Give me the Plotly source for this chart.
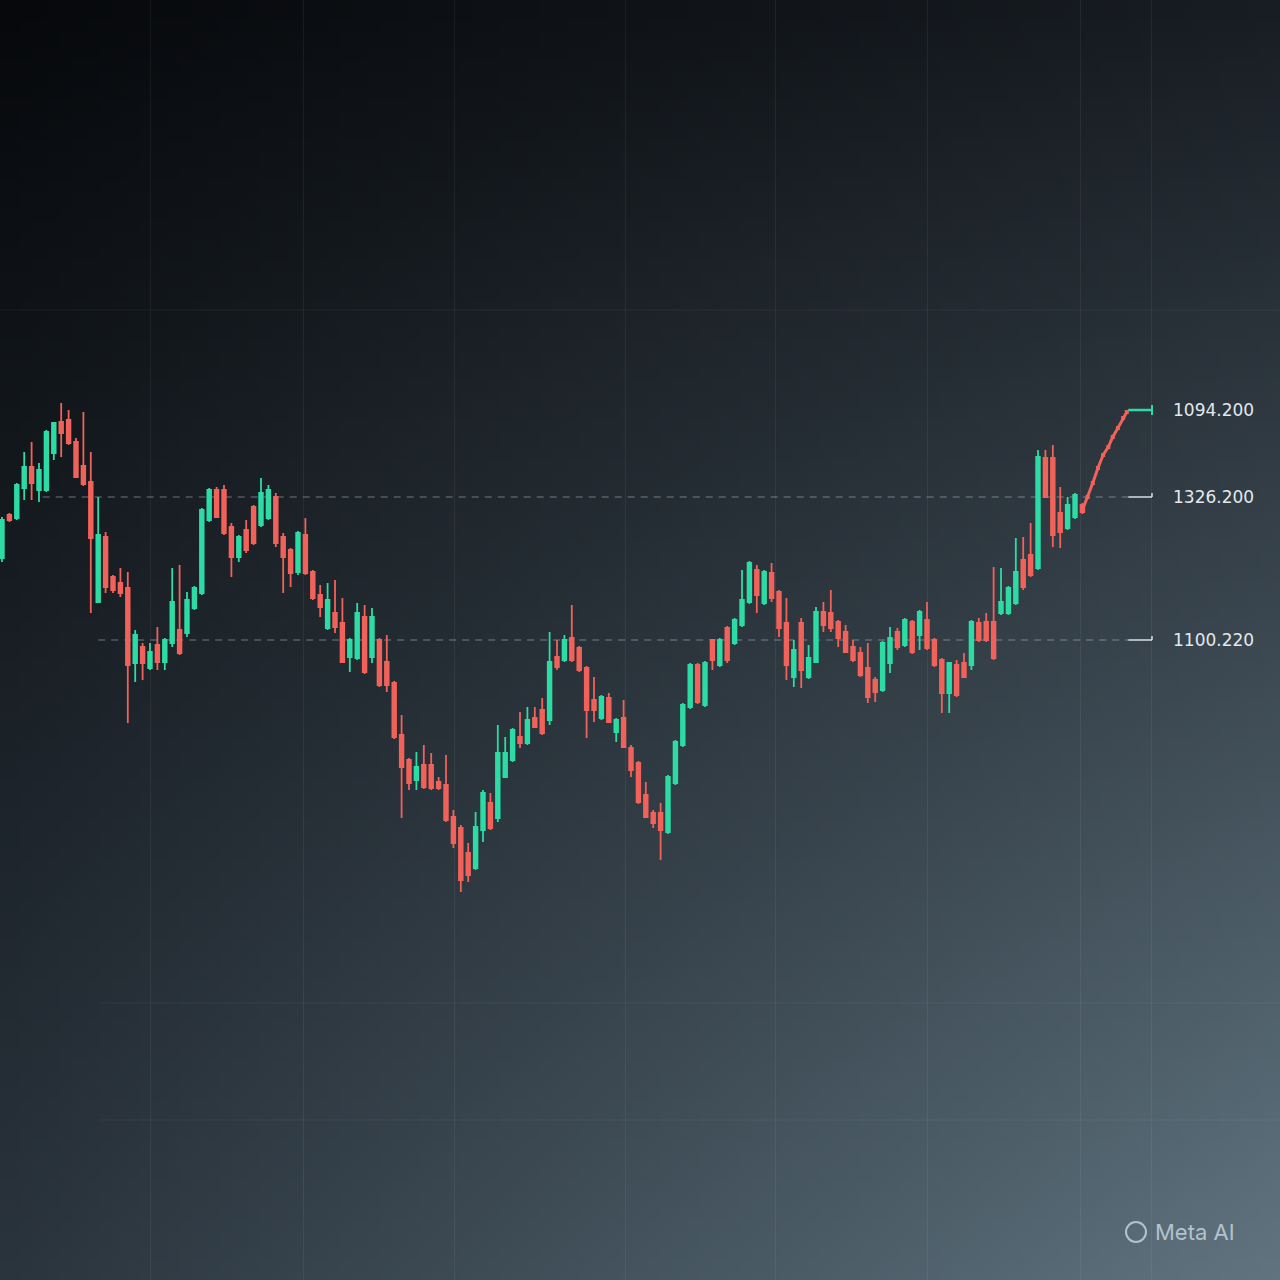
import base64
import struct
import zlib
import plotly.graph_objects as go

# ---------------- data (price units) ----------------
open_ = [722, 765, 762, 792, 813, 790, 790, 827, 858, 860,
         838, 814, 798, 678, 743, 703, 697, 692, 617, 633,
         612, 635, 618, 637, 650, 647, 672, 687, 760, 790,
         790, 753, 723, 750, 773, 755, 762, 783, 743, 730,
         708, 745, 708, 685, 652, 667, 657, 623, 622, 663,
         623, 640, 618, 597, 545, 520, 500, 515, 515, 498,
         495, 463, 452, 427, 412, 450, 477, 462, 503, 520,
         543, 537, 562, 570, 560, 623, 620, 642, 632, 612,
         580, 562, 582, 548, 562, 532, 517, 485, 467, 467,
         448, 497, 535, 573, 615, 575, 640, 615, 652, 637,
         655, 678, 710, 677, 707, 688, 657, 603, 657, 603,
         618, 668, 667, 658, 648, 633, 627, 612, 600, 590,
         617, 648, 635, 658, 645, 660, 640, 620, 587, 615,
         617, 615, 657, 658, 658, 667, 667, 677, 720, 725,
         712, 822, 822, 767, 752, 763, 775]
high = [763, 767, 797, 828, 838, 817, 850, 858, 877, 870,
        842, 868, 828, 783, 748, 705, 712, 708, 650, 637,
        637, 653, 642, 712, 715, 688, 694, 772, 792, 793,
        795, 757, 745, 760, 775, 802, 795, 787, 747, 732,
        749, 762, 710, 695, 697, 700, 682, 642, 677, 675,
        672, 642, 645, 599, 565, 522, 528, 535, 527, 503,
        525, 470, 455, 437, 468, 490, 487, 555, 543, 552,
        568, 573, 573, 582, 648, 640, 645, 675, 634, 614,
        603, 585, 587, 562, 580, 535, 519, 498, 470, 477,
        505, 540, 577, 617, 617, 619, 640, 642, 654, 662,
        710, 719, 715, 710, 717, 690, 682, 640, 662, 635,
        673, 678, 690, 660, 655, 640, 633, 637, 603, 639,
        653, 652, 662, 660, 670, 678, 642, 622, 618, 620,
        627, 660, 662, 667, 713, 712, 694, 742, 743, 757,
        830, 830, 835, 793, 783, 787, 777]
low = [718, 758, 760, 780, 780, 778, 788, 820, 823, 835,
       802, 794, 667, 677, 687, 687, 683, 557, 598, 600,
       610, 610, 610, 633, 625, 643, 670, 685, 758, 762,
       745, 703, 718, 727, 735, 753, 760, 733, 687, 693,
       705, 705, 680, 663, 650, 647, 617, 608, 620, 606,
       617, 593, 588, 541, 462, 490, 490, 491, 490, 490,
       458, 432, 388, 398, 410, 438, 450, 458, 502, 518,
       532, 535, 552, 545, 555, 610, 618, 618, 608, 542,
       558, 560, 557, 538, 532, 503, 476, 462, 452, 420,
       446, 495, 533, 571, 576, 573, 610, 613, 617, 635,
       653, 676, 667, 675, 678, 643, 600, 593, 592, 601,
       617, 648, 648, 633, 627, 618, 603, 577, 578, 588,
       607, 630, 633, 626, 630, 630, 613, 567, 567, 583,
       602, 610, 638, 638, 620, 665, 665, 675, 690, 703,
       710, 782, 733, 732, 750, 761, 766]
close = [760, 760, 795, 813, 797, 810, 848, 857, 847, 837,
         803, 796, 742, 745, 693, 690, 687, 615, 645, 617,
         628, 618, 640, 678, 627, 680, 692, 770, 790, 763,
         747, 723, 743, 730, 737, 787, 790, 737, 723, 707,
         747, 707, 682, 673, 680, 653, 618, 640, 667, 608,
         663, 595, 595, 543, 513, 497, 513, 493, 492, 492,
         460, 437, 400, 405, 453, 487, 452, 527, 527, 550,
         537, 560, 553, 547, 618, 613, 640, 620, 610, 570,
         570, 583, 558, 560, 533, 510, 478, 463, 457, 450,
         503, 538, 575, 615, 578, 617, 620, 640, 620, 660,
         680, 717, 685, 708, 682, 652, 615, 630, 610, 622,
         668, 655, 652, 642, 628, 620, 605, 583, 588, 637,
         642, 633, 660, 628, 668, 632, 615, 587, 617, 585,
         603, 658, 640, 640, 622, 678, 692, 708, 693, 705,
         823, 783, 745, 748, 775, 785, 768]
x_idx = list(range(len(open_)))

# final rising move and last-price line
trend_x = [146.0, 146.7, 147.4, 148.1, 148.8, 149.5, 150.1, 150.8, 151.5, 152.0]
trend_y = [770, 783, 797, 812, 825, 833, 843, 852, 862, 868]
last_x = [152.2, 155.4]
last_y = [870, 870]

# price levels on the right
level_prices = [870, 783, 640]
level_labels = ["1094.200", "1326.200", "1100.220"]
level_dash_start = [None, 5.5, 13.0]

GREEN = "#2ddba5"
RED = "#f0625a"


# ---------------- gradient background (generated PNG) ----------------
def gradient_png(w=96, h=96):
    tl, tr = (6, 8, 11), (24, 29, 35)
    bl, br = (42, 52, 61), (96, 116, 128)
    rows = []
    for j in range(h):
        v = j / (h - 1)
        row = bytearray([0])
        for i in range(w):
            u = i / (w - 1)
            for c in range(3):
                val = (tl[c] * (1 - u) * (1 - v) + tr[c] * u * (1 - v)
                       + bl[c] * (1 - u) * v + br[c] * u * v)
                row.append(int(round(val)))
        rows.append(bytes(row))
    raw = b"".join(rows)

    def chunk(tag, data):
        return (struct.pack(">I", len(data)) + tag + data
                + struct.pack(">I", zlib.crc32(tag + data) & 0xFFFFFFFF))

    png = (b"\x89PNG\r\n\x1a\n"
           + chunk(b"IHDR", struct.pack(">IIBBBBB", w, h, 8, 2, 0, 0, 0))
           + chunk(b"IDAT", zlib.compress(raw, 9))
           + chunk(b"IEND", b""))
    return "data:image/png;base64," + base64.b64encode(png).decode()


fig = go.Figure()

fig.add_trace(go.Candlestick(
    x=x_idx, open=open_, high=high, low=low, close=close,
    increasing=dict(line=dict(color=GREEN, width=1.8), fillcolor=GREEN),
    decreasing=dict(line=dict(color=RED, width=1.8), fillcolor=RED),
    whiskerwidth=0, showlegend=False, hoverinfo="skip",
))

fig.add_trace(go.Scatter(
    x=trend_x, y=trend_y, mode="lines+markers",
    line=dict(color=RED, width=3), marker=dict(color=RED, size=4, symbol="square"),
    showlegend=False, hoverinfo="skip",
))
fig.add_trace(go.Scatter(
    x=last_x, y=last_y, mode="lines",
    line=dict(color=GREEN, width=2.5), showlegend=False, hoverinfo="skip",
))

X_MIN, X_MAX = -0.27, 172.7
shapes = []
# end tick of last price line
shapes.append(dict(type="line", xref="x", yref="y", x0=last_x[-1], x1=last_x[-1],
                   y0=last_y[-1] - 5, y1=last_y[-1] + 5,
                   line=dict(color=GREEN, width=2)))
for p, start in zip(level_prices, level_dash_start):
    if start is None:
        continue
    shapes.append(dict(type="line", xref="x", yref="y", x0=start, x1=152.2, y0=p, y1=p,
                       line=dict(color="rgba(195,205,215,0.5)", width=1.2, dash="7px,6px"),
                       layer="below"))
    shapes.append(dict(type="line", xref="x", yref="y", x0=152.2, x1=155.4, y0=p, y1=p,
                       line=dict(color="rgba(235,240,245,0.9)", width=1.5)))
    shapes.append(dict(type="line", xref="x", yref="y", x0=155.4, x1=155.4, y0=p, y1=p + 4,
                       line=dict(color="rgba(235,240,245,0.9)", width=1.5)))

# faint horizontal rules
for ypx, x0 in [(310, 0.0), (1003, 100 / 1280), (1120, 100 / 1280)]:
    yp = 1 - ypx / 1280
    shapes.append(dict(type="line", xref="paper", yref="paper", x0=x0, x1=1, y0=yp, y1=yp,
                       line=dict(color="rgba(255,255,255,0.06)", width=1), layer="below"))

# watermark circle
shapes.append(dict(type="circle", xref="paper", yref="paper",
                   x0=1126 / 1280, x1=1146 / 1280, y0=1 - 1242 / 1280, y1=1 - 1222 / 1280,
                   line=dict(color="#b3c2cc", width=2)))

annotations = []
for p, lab in zip(level_prices, level_labels):
    annotations.append(dict(x=158.0, y=p, xref="x", yref="y", text=lab, showarrow=False,
                            xanchor="left", yanchor="middle",
                            font=dict(family="DejaVu Sans, Roboto, sans-serif", size=17,
                                      color="#e2e8ec")))
annotations.append(dict(x=1153 / 1280, y=1 - 1232 / 1280, xref="paper", yref="paper",
                        text="Meta AI", showarrow=False, xanchor="left", yanchor="middle",
                        font=dict(family="Inter, Roboto, sans-serif", size=22, color="#b3c2cc")))

grid_vals = [20.0, 40.7, 61.2, 84.2, 104.5, 125.1, 145.7, 155.4]

fig.update_layout(
    width=1280, height=1280,
    margin=dict(l=0, r=0, t=0, b=0),
    paper_bgcolor="#1c232a",
    plot_bgcolor="rgba(0,0,0,0)",
    showlegend=False,
    shapes=shapes,
    annotations=annotations,
    images=[dict(source=gradient_png(), xref="paper", yref="paper", x=0, y=1,
                 sizex=1, sizey=1, sizing="stretch", xanchor="left", yanchor="top",
                 layer="below")],
    xaxis=dict(range=[X_MIN, X_MAX], rangeslider=dict(visible=False), showticklabels=False,
               ticks="", tickvals=grid_vals, showgrid=True,
               gridcolor="rgba(255,255,255,0.06)", gridwidth=1, zeroline=False,
               showline=False, fixedrange=True),
    yaxis=dict(range=[0, 1280], showticklabels=False, ticks="", showgrid=False,
               zeroline=False, showline=False, fixedrange=True),
)

fig.write_html(
    "out.html",
    config={"displayModeBar": False},
    post_script="document.body.style.margin='0';document.body.style.padding='0';"
                "document.body.style.overflow='hidden';document.body.style.background='#1c232a';",
)
